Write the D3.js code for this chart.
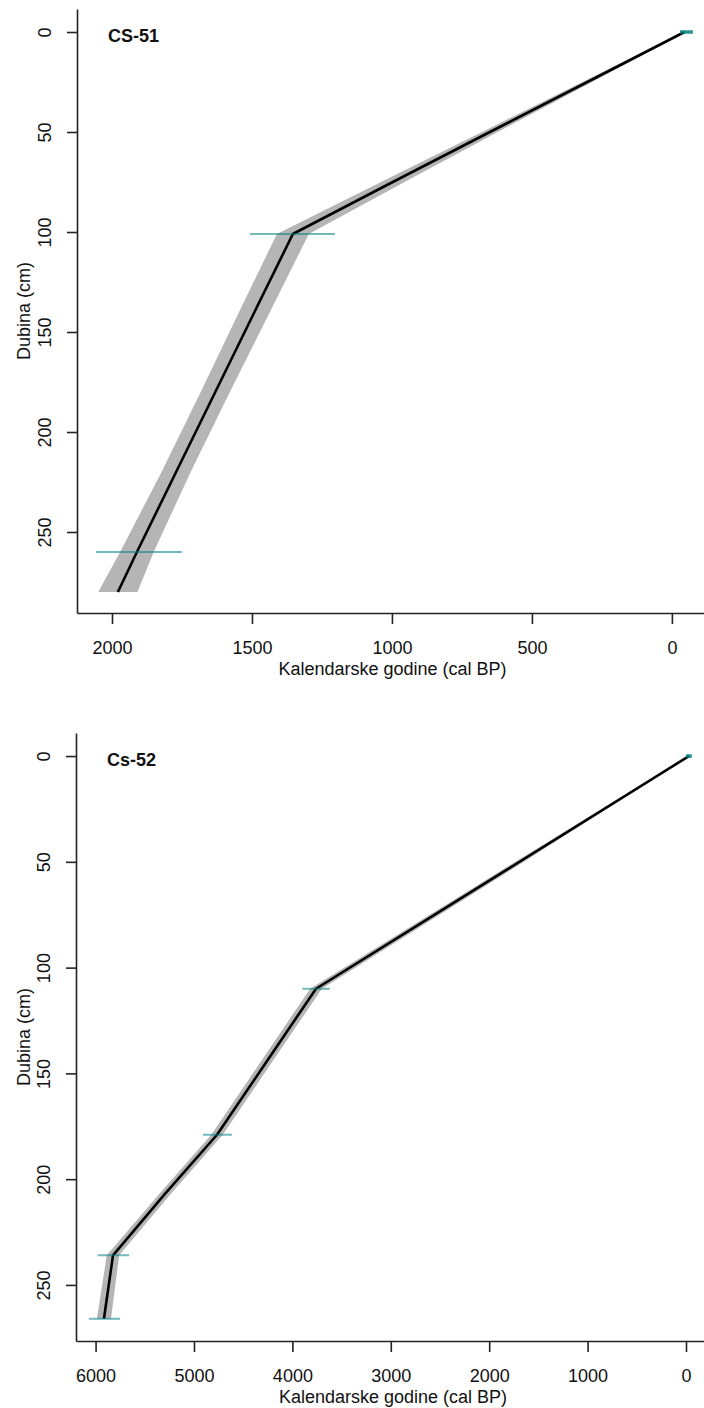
<!DOCTYPE html>
<html>
<head>
<meta charset="utf-8">
<script src="https://cdn.jsdelivr.net/npm/d3@7"></script>
<style>
  html, body { margin: 0; padding: 0; background: #fff; }
  svg { display: block; }
  text { font-family: "Liberation Sans", Arial, sans-serif; fill: #111; }
</style>
</head>
<body>
<svg id="chart" width="704" height="1408"></svg>
<script>
// ---------- DATA ----------
// Panel 1: CS-51 age-depth model
const cs51Label = "CS-51";
const cs51Depth = [0, 25, 50, 75, 101, 140, 180, 220, 260, 280];
const cs51Age   = [-45, 302, 650, 997, 1354, 1491, 1631, 1771, 1911, 1979];
const cs51Min   = [-50, 285, 622, 955, 1297, 1436, 1579, 1719, 1851, 1909];
const cs51Max   = [-40, 319, 678, 1039, 1411, 1546, 1683, 1823, 1971, 2049];
const cs51DateDepth = [0, 101, 260];
const cs51DateMin   = [-75, 1204, 1750];
const cs51DateMax   = [-29, 1507, 2057];
const cs51XTicks = [2000, 1500, 1000, 500, 0];
const cs51YTicks = [0, 50, 100, 150, 200, 250];

// Panel 2: Cs-52 age-depth model
const cs52Label = "Cs-52";
const cs52Depth = [0, 55, 110, 145, 179, 207, 236, 251, 266];
const cs52Age   = [-30, 1865, 3760, 4270, 4766, 5295, 5823, 5869, 5915];
const cs52Min   = [-38, 1820, 3700, 4212, 4708, 5237, 5760, 5802, 5843];
const cs52Max   = [-22, 1910, 3820, 4328, 4824, 5353, 5886, 5936, 5987];
const cs52DateDepth = [0, 110, 179, 236, 266];
const cs52DateMin   = [-60, 3620, 4614, 5660, 5752];
const cs52DateMax   = [0, 3900, 4908, 5978, 6067];
const cs52XTicks = [6000, 5000, 4000, 3000, 2000, 1000, 0];
const cs52YTicks = [0, 50, 100, 150, 200, 250];

const xTitle = "Kalendarske godine (cal BP)";
const yTitle = "Dubina (cm)";

// ---------- DRAW ----------
const svg = d3.select("#chart");

function panel(cfg) {
  const g = svg.append("g");
  const x = d3.scaleLinear().domain(cfg.xDomain).range([cfg.left, cfg.right]);
  const y = d3.scaleLinear().domain(cfg.yDomain).range([cfg.top, cfg.bottom]);

  const rows = cfg.depth.map((d, i) => ({ d, a: cfg.age[i], lo: cfg.min[i], hi: cfg.max[i] }));

  // uncertainty band
  g.append("path")
    .datum(rows)
    .attr("fill", "#b5b5b5")
    .attr("d", d3.area().x0(r => x(r.lo)).x1(r => x(r.hi)).y(r => y(r.d)));

  // best model line
  g.append("path")
    .datum(rows)
    .attr("fill", "none")
    .attr("stroke", "#000")
    .attr("stroke-width", 2.6)
    .attr("stroke-linejoin", "round")
    .attr("d", d3.line().x(r => x(r.a)).y(r => y(r.d)));

  // calibrated dates
  const dates = cfg.dDepth.map((d, i) => ({ d, lo: cfg.dMin[i], hi: cfg.dMax[i] }));
  g.selectAll("line.date").data(dates).enter().append("line")
    .attr("class", "date")
    .attr("x1", r => x(r.lo)).attr("x2", r => x(r.hi))
    .attr("y1", r => y(r.d)).attr("y2", r => y(r.d))
    .attr("stroke", r => r.d === 0 ? "rgba(0,128,128,0.85)" : "rgba(0,128,128,0.55)")
    .attr("stroke-width", r => r.d === 0 ? 3.5 : 2);

  // axes
  const yAxis = d3.axisLeft(y).tickValues(cfg.yTicks).tickSize(10).tickSizeOuter(0).tickFormat(d3.format("d"));
  const ya = g.append("g").attr("transform", `translate(${cfg.left},0)`).call(yAxis);
  ya.select(".domain").attr("stroke", "#222").attr("stroke-width", 1.6);
  ya.selectAll(".tick line").attr("stroke", "#222").attr("stroke-width", 1.6);
  ya.selectAll(".tick text")
    .attr("transform", "rotate(-90)")
    .attr("x", 0).attr("y", -26).attr("dy", 0)
    .attr("text-anchor", "middle")
    .style("font-size", "18px").style("font-family", '"Liberation Sans", Arial, sans-serif')
    .attr("fill", "#111");

  const xAxis = d3.axisBottom(x).tickValues(cfg.xTicks).tickSize(11).tickSizeOuter(0).tickFormat(d3.format("d"));
  const xa = g.append("g").attr("transform", `translate(0,${cfg.bottom})`).call(xAxis);
  xa.select(".domain").attr("stroke", "#222").attr("stroke-width", 1.6);
  xa.selectAll(".tick line").attr("stroke", "#222").attr("stroke-width", 1.6);
  xa.selectAll(".tick text")
    .attr("y", 41).attr("dy", 0)
    .style("font-size", "18px").style("font-family", '"Liberation Sans", Arial, sans-serif')
    .attr("fill", "#111");

  // titles
  g.append("text")
    .attr("x", (cfg.left + cfg.right) / 2).attr("y", cfg.bottom + 62)
    .attr("text-anchor", "middle").style("font-size", "18px")
    .text(xTitle);
  g.append("text")
    .attr("transform", `translate(30,${(cfg.top + cfg.bottom) / 2}) rotate(-90)`)
    .attr("text-anchor", "middle").style("font-size", "18px")
    .text(yTitle);
  g.append("text")
    .attr("x", cfg.labelX).attr("y", y(0) + 9.5)
    .style("font-size", "18px").style("font-weight", "bold")
    .text(cfg.label);
}

panel({
  label: cs51Label, labelX: 108,
  depth: cs51Depth, age: cs51Age, min: cs51Min, max: cs51Max,
  dDepth: cs51DateDepth, dMin: cs51DateMin, dMax: cs51DateMax,
  xTicks: cs51XTicks, yTicks: cs51YTicks,
  xDomain: [2125, -129], yDomain: [-11.5, 290.5],
  left: 77, right: 708, top: 9, bottom: 613
});

panel({
  label: cs52Label, labelX: 107,
  depth: cs52Depth, age: cs52Age, min: cs52Min, max: cs52Max,
  dDepth: cs52DateDepth, dMin: cs52DateMin, dMax: cs52DateMax,
  xTicks: cs52XTicks, yTicks: cs52YTicks,
  xDomain: [6199, -244], yDomain: [-10.9, 276.5],
  left: 76, right: 710, top: 733, bottom: 1341
});
</script>
</body>
</html>
